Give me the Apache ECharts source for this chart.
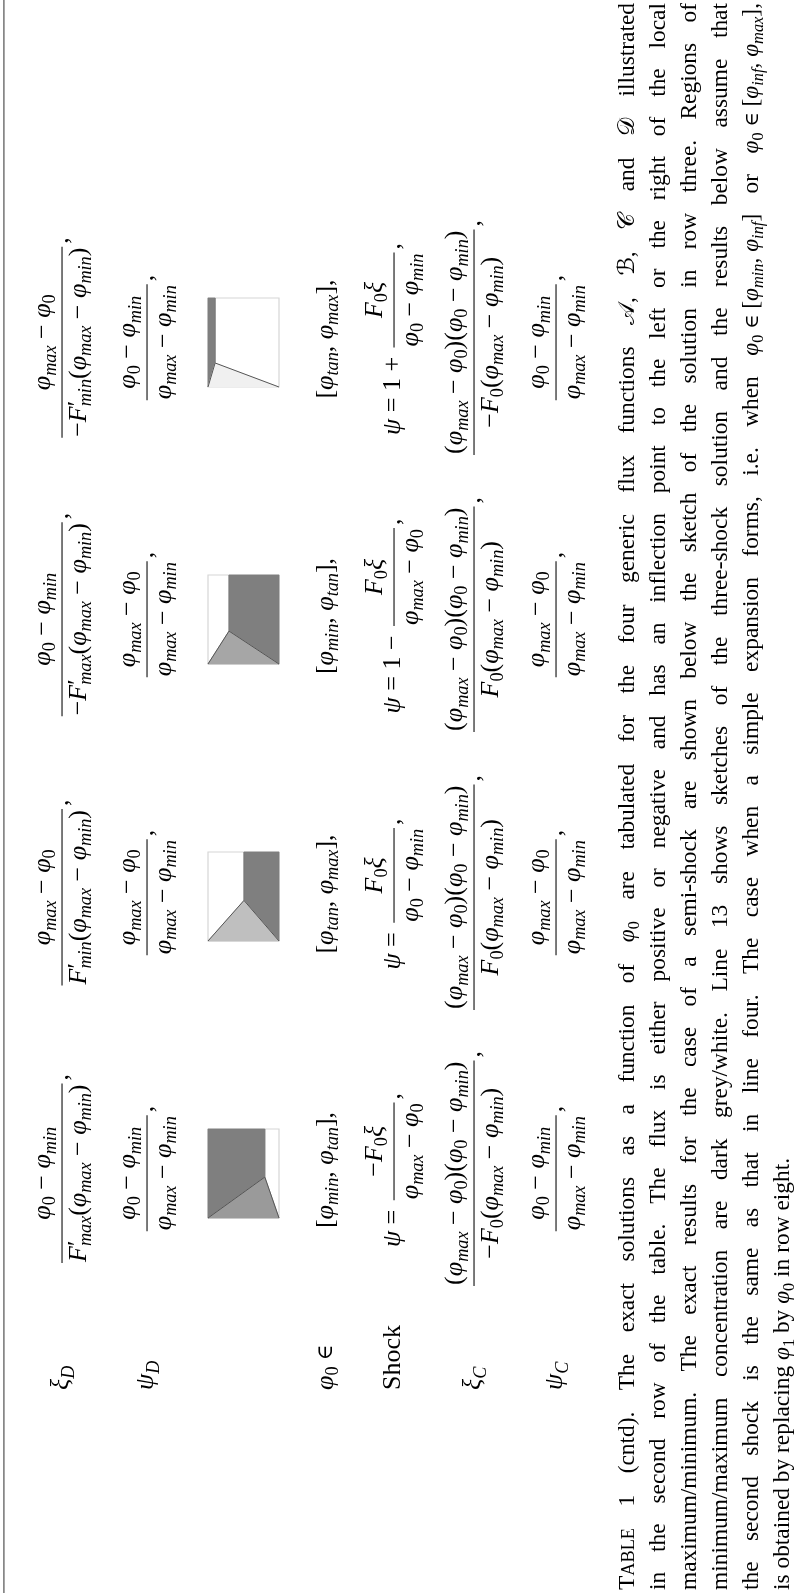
<!DOCTYPE html>
<html><head><meta charset="utf-8">
<script src="https://cdn.jsdelivr.net/npm/echarts@6/dist/echarts.min.js"></script>
<style>html,body{margin:0;padding:0;background:#fff}#c{width:805px;height:1593px}</style>
</head><body><div id="c"></div>
<script>
// ---------------- DATA ----------------
const rowLabels = ['ξ_D', 'ψ_D', '', 'φ_0 ∈', 'Shock', 'ξ_C', 'ψ_C'];
const xiD = [
  ['φ_0 − φ_{min}', 'F^′_{max}(φ_{max} − φ_{min})'],
  ['φ_{max} − φ_0', 'F^′_{min}(φ_{max} − φ_{min})'],
  ['φ_0 − φ_{min}', '−F^′_{max}(φ_{max} − φ_{min})'],
  ['φ_{max} − φ_0', '−F^′_{min}(φ_{max} − φ_{min})']
];
const psiD = [
  ['φ_0 − φ_{min}', 'φ_{max} − φ_{min}'],
  ['φ_{max} − φ_0', 'φ_{max} − φ_{min}'],
  ['φ_{max} − φ_0', 'φ_{max} − φ_{min}'],
  ['φ_0 − φ_{min}', 'φ_{max} − φ_{min}']
];
const phi0Range = ['[φ_{min}, φ_{tan}],', '[φ_{tan}, φ_{max}],', '[φ_{min}, φ_{tan}],', '[φ_{tan}, φ_{max}],'];
const shockPrefix = ['ψ = ', 'ψ = ', 'ψ = 1 − ', 'ψ = 1 + '];
const shockFrac = [
  ['−F_0ξ', 'φ_{max} − φ_0'],
  ['F_0ξ', 'φ_0 − φ_{min}'],
  ['F_0ξ', 'φ_{max} − φ_0'],
  ['F_0ξ', 'φ_0 − φ_{min}']
];
const xiC = [
  ['(φ_{max} − φ_0)(φ_0 − φ_{min})', '−F_0(φ_{max} − φ_{min})'],
  ['(φ_{max} − φ_0)(φ_0 − φ_{min})', 'F_0(φ_{max} − φ_{min})'],
  ['(φ_{max} − φ_0)(φ_0 − φ_{min})', 'F_0(φ_{max} − φ_{min})'],
  ['(φ_{max} − φ_0)(φ_0 − φ_{min})', '−F_0(φ_{max} − φ_{min})']
];
const psiC = [
  ['φ_0 − φ_{min}', 'φ_{max} − φ_{min}'],
  ['φ_{max} − φ_0', 'φ_{max} − φ_{min}'],
  ['φ_{max} − φ_0', 'φ_{max} − φ_{min}'],
  ['φ_0 − φ_{min}', 'φ_{max} − φ_{min}']
];
// sketches: regions in unit box (x right, y up)
const sketchDark = [
  [[0, 0], [0, 1], [0.8, 1], [0.8, 0.46]],
  [[0.507, 1], [1, 1], [1, 0], [0.507, 0.456]],
  [[0.296, 1], [1, 1], [1, 0], [0.296, 0.37]],
  [[0, 0], [0, 1], [0.1, 1], [0.1, 0.27]]
];
const sketchFan = [
  [[0.8, 0.46], [1, 0], [0, 0]],
  [[0.507, 0.456], [1, 0], [0, 0]],
  [[0.296, 0.37], [1, 0], [0, 0]],
  [[0.1, 0.27], [1, 0], [0, 0]]
];
const captionLines = [
  ['TABLE', '1', '(cntd).', 'The', 'exact', 'solutions', 'as', 'a', 'function', 'of', '$φ_0$', 'are', 'tabulated', 'for', 'the', 'four', 'generic', 'flux', 'functions', '$𝒜$,', '$ℬ$,', '$𝒞$', 'and', '$𝒟$', 'illustrated'],
  'in the second row of the table. The flux is either positive or negative and has an inflection point to the left or the right of the local'.split(' '),
  'maximum/minimum. The exact results for the case of a semi-shock are shown below the sketch of the solution in row three. Regions of'.split(' '),
  'minimum/maximum concentration are dark grey/white. Line 13 shows sketches of the three-shock solution and the results below assume that'.split(' '),
  'the second shock is the same as that in line four. The case when a simple expansion forms, i.e. when'.split(' ').concat(['$φ_0 ∈ [φ_{min}, φ_{inf}]$', 'or', '$φ_0 ∈ [φ_{inf}, φ_{max}]$,']),
  'is obtained by replacing $φ_1$ by $φ_0$ in row eight.'.split(' ')
];

// ---------------- LAYOUT / STYLE ----------------
const PAGE_H = 1593;
const FS = 26, CFS = 23.4;
const FAM = '"Liberation Serif","DejaVu Serif","DejaVu Sans",serif';
const colU = [423, 699, 977, 1254];
const rowBase = [68.5, 153.5, null, 333, 400.5, 480.5, 562.5];
const labelU = 203;
const capL = 3, capR = 1590, capBase0 = 634, capGap = 31;
const sketchLeft = 208, sketchW = 71, sketchH = 89;
const sketchTop = [1129, 852, 575, 298];
const fanColor = ['#9a9a9a', '#bfbfbf', '#a6a6a6', '#f0f0f0'];
const darkColor = '#7f7f7f';

const cv = document.createElement('canvas').getContext('2d');
function setFont(size, it) { cv.font = (it ? 'italic ' : '') + size + 'px ' + FAM; }
function mw(t, size, it) { setFont(size, it); return cv.measureText(t).width; }
let MID = 0.33;
(function () {
  setFont(100, false); cv.textBaseline = 'alphabetic';
  const a = cv.measureText('H').actualBoundingBoxAscent;
  cv.textBaseline = 'middle';
  const b = cv.measureText('H').actualBoundingBoxAscent;
  cv.textBaseline = 'alphabetic';
  if (isFinite(a) && isFinite(b) && a > 0) MID = (a - b) / 100;
})();

function isIt(ch) { return /[A-Za-z\u0370-\u03FF]/.test(ch); }
function pushRuns(out, str, lvl, math) {
  for (const ch of Array.from(str)) {
    const it = math ? isIt(ch) : false;
    if (ch === '∈') { out.push({ t: ch, it: false, lvl, scale: 0.82, lift: 0.02 }); continue; }
    const last = out[out.length - 1];
    if (last && last.lvl === lvl && last.it === it && !last.scale) last.t += ch;
    else out.push({ t: ch, it, lvl });
  }
}
function parseMath(s, out) {
  out = out || [];
  const chars = Array.from(s); let i = 0;
  function group() {
    if (chars[i] === '{') { let j = i + 1, str = ''; while (chars[j] !== '}') { str += chars[j]; j++; } i = j + 1; return str; }
    const c = chars[i]; i++; return c;
  }
  while (i < chars.length) {
    const c = chars[i];
    if (c === '_' || c === '^') { i++; const g = group(); out.push({ t: g, it: isIt(g), lvl: c === '_' ? -1 : 1, sep: true }); continue; }
    pushRuns(out, c, 0, true); i++;
  }
  const res = [];
  out.forEach(s2 => {
    if (s2.sep) { const tmp = []; pushRuns(tmp, s2.t, s2.lvl, true); tmp.forEach(x => res.push(x)); }
    else res.push(s2);
  });
  return res;
}
function parseWord(w) {
  if (w === 'TABLE') return [{ t: 'T', it: false, lvl: 0 }, { t: 'ABLE', it: false, lvl: 0, scale: 0.78 }];
  const parts = w.split('$'); const out = [];
  parts.forEach((p, k) => {
    if (!p) return;
    if (k % 2 === 1) parseMath(p).forEach(x => out.push(x));
    else pushRuns(out, p, 0, false);
  });
  return out;
}
function layoutSegs(segs, size) {
  let x = 0, supStart = 0, supEnd = 0; const items = [];
  segs.forEach((s, k) => {
    const prev = segs[k - 1];
    let sz = s.lvl === 0 ? size * (s.scale || 1) : size * 0.7;
    let dy = s.lvl === -1 ? 0.2 * size : (s.lvl === 1 ? -0.36 * size : 0);
    if (s.lift) dy -= s.lift * size;
    if (s.lvl === 1 && s.t === '′') { sz = size * 0.95; dy = -0.04 * size; }
    const w = mw(s.t, sz, s.it);
    let xs;
    if (s.lvl === -1 && prev && prev.lvl === 1) { xs = supStart; x = Math.max(supEnd, xs + w); }
    else { xs = x; x = xs + w; }
    if (s.lvl === 1) { if (!(prev && prev.lvl === 1)) supStart = xs; supEnd = x; }
    items.push({ t: s.t, it: s.it, size: sz, dx: xs, dy });
  });
  return { items, w: x };
}
const children = [];
function emit(items, u0, vBase) {
  items.forEach(it => {
    if (!it.t.trim()) return;
    children.push({
      type: 'text', silent: true, x: u0 + it.dx, y: vBase + it.dy - MID * it.size,
      style: {
        text: it.t, fontSize: it.size, fontFamily: FAM, fontStyle: it.it ? 'italic' : 'normal',
        fill: '#000', align: 'left', verticalAlign: 'middle', textAlign: 'left', textVerticalAlign: 'middle'
      }
    });
  });
}
const ND = 3; // null delimiter space
function drawCell(parts, uc, vBase, size) {
  const boxes = parts.map(p => {
    if (p.frac) {
      const n = layoutSegs(parseMath(p.frac[0]), size), d = layoutSegs(parseMath(p.frac[1]), size);
      const bw = Math.max(n.w, d.w) + 2;
      return { frac: true, n, d, bw, w: bw + 2 * ND };
    }
    const l = layoutSegs(parseMath(p.m), size);
    return { l, w: l.w };
  });
  const total = boxes.reduce((a, b) => a + b.w, 0);
  let u = uc - total / 2;
  const vBar = vBase - 0.25 * size;
  boxes.forEach(b => {
    if (b.frac) {
      const x0 = u + ND;
      children.push({ type: 'rect', silent: true, shape: { x: x0, y: vBar - 0.5, width: b.bw, height: 1.05 }, style: { fill: '#000' } });
      emit(b.n.items, x0 + (b.bw - b.n.w) / 2, vBar - 0.45 * size);
      emit(b.d.items, x0 + (b.bw - b.d.w) / 2, vBar + 0.93 * size);
    } else emit(b.l.items, u, vBase);
    u += b.w;
  });
}

// top rule of the table
children.push({ type: 'rect', silent: true, shape: { x: 0, y: 3.2, width: PAGE_H, height: 1.4 }, style: { fill: '#6a6a6a' } });

// row labels
rowLabels.forEach((lab, r) => {
  if (!lab) return;
  const segs = lab === 'Shock' ? [{ t: 'Shock', it: false, lvl: 0 }] : parseMath(lab);
  emit(layoutSegs(segs, FS).items, labelU, rowBase[r]);
});
// cells
for (let c = 0; c < 4; c++) {
  drawCell([{ frac: xiD[c] }, { m: ',' }], colU[c], rowBase[0], FS);
  drawCell([{ frac: psiD[c] }, { m: ',' }], colU[c], rowBase[1], FS);
  drawCell([{ m: phi0Range[c] }], colU[c], rowBase[3], FS);
  drawCell([{ m: shockPrefix[c] }, { frac: shockFrac[c] }, { m: ',' }], colU[c], rowBase[4], FS);
  drawCell([{ frac: xiC[c] }, { m: ',' }], colU[c], rowBase[5], FS);
  drawCell([{ frac: psiC[c] }, { m: ',' }], colU[c], rowBase[6], FS);
}
// caption
captionLines.forEach((words, li) => {
  const lays = words.map(w => layoutSegs(parseWord(w), CFS));
  const sum = lays.reduce((a, b) => a + b.w, 0);
  const last = li === captionLines.length - 1;
  const gap = last ? mw(' ', CFS, false) : (capR - capL - sum) / (words.length - 1);
  let u = capL;
  const vb = capBase0 + li * capGap;
  lays.forEach(l => { emit(l.items, u, vb); u += l.w + gap; });
});

// ---------------- CHART ----------------
const chart = echarts.init(document.getElementById('c'), null, { renderer: 'canvas' });
const grids = [], xAxes = [], yAxes = [], series = [];
for (let s = 0; s < 4; s++) {
  grids.push({ left: sketchLeft, top: sketchTop[s], width: sketchW, height: sketchH, show: false });
  xAxes.push({ type: 'value', min: 0, max: 1, show: false, gridIndex: s });
  yAxes.push({ type: 'value', min: 0, max: 1, show: false, gridIndex: s });
  const k = sketchFan[s][0];
  const items = [
    { kind: 'box', pts: [[0, 0], [1, 0], [1, 1], [0, 1]] },
    { kind: 'dark', pts: sketchDark[s] },
    { kind: 'fan', pts: sketchFan[s] },
    { kind: 'edge', pts: [sketchFan[s][2], k, sketchFan[s][1]] },
    { kind: 'soft', pts: [[k[0], 1], k] }
  ];
  series.push({
    type: 'custom', coordinateSystem: 'cartesian2d', xAxisIndex: s, yAxisIndex: s, silent: true, clip: false,
    data: items.map(it => [it.pts[0][0], it.pts[0][1]]),
    renderItem: (params, api) => {
      const it = items[params.dataIndex];
      const pts = it.pts.map(p => api.coord(p));
      if (it.kind === 'box') return { type: 'polygon', shape: { points: pts }, style: { fill: '#fff', stroke: '#d6d6d6', lineWidth: 1.2 } };
      if (it.kind === 'dark') return { type: 'polygon', shape: { points: pts }, style: { fill: darkColor, stroke: darkColor, lineWidth: 0.8 } };
      if (it.kind === 'fan') return { type: 'polygon', shape: { points: pts }, style: { fill: fanColor[s], stroke: fanColor[s], lineWidth: 0.8 } };
      if (it.kind === 'edge') return { type: 'polyline', shape: { points: pts }, style: { fill: null, stroke: '#555', lineWidth: 1 } };
      return { type: 'polyline', shape: { points: pts }, style: { fill: null, stroke: '#777', lineWidth: 0.8 } };
    }
  });
}
chart.setOption({
  animation: false,
  backgroundColor: '#fff',
  grid: grids, xAxis: xAxes, yAxis: yAxes, series,
  graphic: [{ type: 'group', rotation: Math.PI / 2, x: 0, y: PAGE_H, silent: true, children }]
});
</script>
</body></html>
